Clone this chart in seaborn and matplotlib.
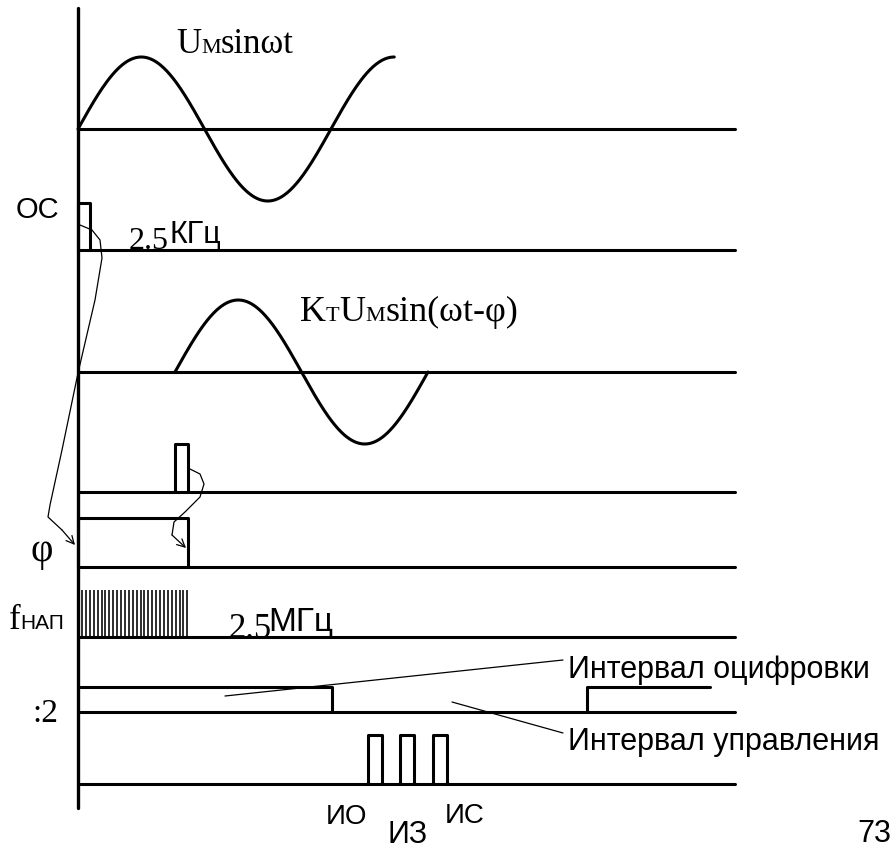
import numpy as np
import matplotlib
matplotlib.use('agg')
import matplotlib.pyplot as plt
import seaborn as sns

# ---- timing data (time units: 1 unit = 1 px of the original sheet, t=0 at the axis) ----
T_SINE = 253            # period of the measured sine
PHI = 97                # phase shift of the second sine
AMP = 72                # sine amplitude
SINE1_CYCLES = 1.25
SINE2_CYCLES = 1.0
T_END = 657             # right end of every time line

oc_pulse = (0, 12)              # ОС, 2.5 кГц
ref_pulse = (PHI, PHI + 13)     # pulse at zero crossing of second sine
phi_gate = (0, PHI + 13)        # gate of width phi
clock_start, clock_stop, clock_step = 4, 110, 3.9   # fНАП 2.5 МГц
div2_high = [(0, 254), (509, 632)]                   # :2
io_pulses = [290, 322, 355]                          # ИО, ИЗ, ИС
io_width = 14

# ---- layout of rows (baseline y and pulse height, px) ----
X0 = 78
rows = {'sine1': 129, 'oc': 250, 'sine2': 372, 'ref': 492, 'phi': 567,
        'clk': 637, 'div2': 712, 'io': 784}
H = {'oc': 47, 'ref': 48, 'phi': 49, 'clk': 47, 'div2': 25, 'io': 49}

sns.set_theme(style='white')
plt.rcParams['font.family'] = ['Liberation Sans', 'DejaVu Sans']
plt.rcParams['text.color'] = 'black'
SERIF = ['Liberation Serif', 'DejaVu Serif']
SANS = ['Liberation Sans', 'DejaVu Sans']

fig = plt.figure(figsize=(8.94, 8.51), dpi=100)
ax = fig.add_axes([0, 0, 1, 1])
LW = 2.2
THIN = 0.9


def trace(xs, ys, lw=LW):
    sns.lineplot(x=list(xs), y=list(ys), sort=False, estimator=None,
                 color='black', linewidth=lw, ax=ax)


def pulse(t0, t1, base, h):
    trace([t0, t0, t1, t1], [base, base - h, base - h, base])


# time axis
trace([0, 0], [8, 808], lw=2.4)
for key, y in rows.items():
    trace([0, T_END], [y, y])

# sines
t1 = np.linspace(0, SINE1_CYCLES * T_SINE, 300)
trace(t1, rows['sine1'] - AMP * np.sin(2 * np.pi * t1 / T_SINE))
t2 = np.linspace(PHI, PHI + SINE2_CYCLES * T_SINE, 300)
trace(t2, rows['sine2'] - AMP * np.sin(2 * np.pi * (t2 - PHI) / T_SINE))

# pulses
pulse(*oc_pulse, rows['oc'], H['oc'])
pulse(*ref_pulse, rows['ref'], H['ref'])
pulse(*phi_gate, rows['phi'], H['phi'])
ax.vlines(np.arange(clock_start, clock_stop, clock_step),
          rows['clk'] - H['clk'], rows['clk'], color='black', lw=1.15)
for a, b in div2_high:
    if a == 0:
        trace([a, b, b], [rows['div2'] - H['div2']] * 2 + [rows['div2']])
    else:
        trace([a, a, b], [rows['div2'], rows['div2'] - H['div2'], rows['div2'] - H['div2']])
for p in io_pulses:
    pulse(p, p + io_width, rows['io'], H['io'])

# curved arrows
arc1 = [(2, 225), (14, 230), (22, 240), (24, 258), (17, 300), (0, 373),
        (-16, 450), (-28, 505), (-30, 517), (-16, 530)]
trace([p[0] for p in arc1], [p[1] for p in arc1], lw=THIN)
ax.annotate('', xy=(-3, 545), xytext=arc1[-1],
            arrowprops=dict(arrowstyle='->', lw=THIN, color='black',
                            shrinkA=0, shrinkB=0, mutation_scale=14))
arc2 = [(112, 469), (122, 474), (126, 484), (122, 497), (107, 512),
        (96, 522), (94, 535)]
trace([p[0] for p in arc2], [p[1] for p in arc2], lw=THIN)
ax.annotate('', xy=(108, 548), xytext=arc2[-1],
            arrowprops=dict(arrowstyle='->', lw=THIN, color='black',
                            shrinkA=0, shrinkB=0, mutation_scale=14))

# leader lines
trace([147, 485], [696, 660], lw=THIN)
trace([374, 485], [702, 733], lw=THIN)

ax.set_xlim(-X0, 894 - X0)
ax.set_ylim(851, 0)
ax.axis('off')

renderer = fig.canvas.get_renderer()


def rich(x, y, parts):
    for s, size, fam in parts:
        t = ax.text(x, y, s, fontsize=size, family=fam, color='black',
                    ha='left', va='baseline')
        x += t.get_window_extent(renderer=renderer).width


rich(176 - X0, 53, [('U', 25, SERIF), ('M', 16, SERIF), ('sinωt', 25, SERIF)])
rich(300 - X0, 321, [('K', 26, SERIF), ('T', 16, SERIF), ('U', 26, SERIF),
                     ('M', 16, SERIF), ('sin(ωt-φ)', 26, SERIF)])
rich(16 - X0, 218, [('ОС', 21, SANS)])
rich(129 - X0, 249, [('2.5', 23, SERIF)])
rich(169 - X0, 243, [('КГц', 22, SANS)])
rich(30 - X0, 561, [('φ', 28, SERIF)])
rich(9 - X0, 629, [('f', 25, SERIF), ('НАП', 15, SANS)])
rich(228 - X0, 638, [('2.5', 25, SERIF)])
rich(268 - X0, 631, [('МГц', 24, SANS)])
rich(32 - X0, 722, [(':2', 24, SERIF)])
rich(568 - X0, 678, [('Интервал оцифровки', 22, SANS)])
rich(568 - X0, 750, [('Интервал управления', 22, SANS)])
rich(326 - X0, 824, [('ИО', 20, SANS)])
rich(387 - X0, 843, [('ИЗ', 22, SANS)])
rich(445 - X0, 823, [('ИС', 20, SANS)])
rich(857 - X0, 842, [('73', 22, SANS)])

fig.savefig('out.png', dpi=100)
